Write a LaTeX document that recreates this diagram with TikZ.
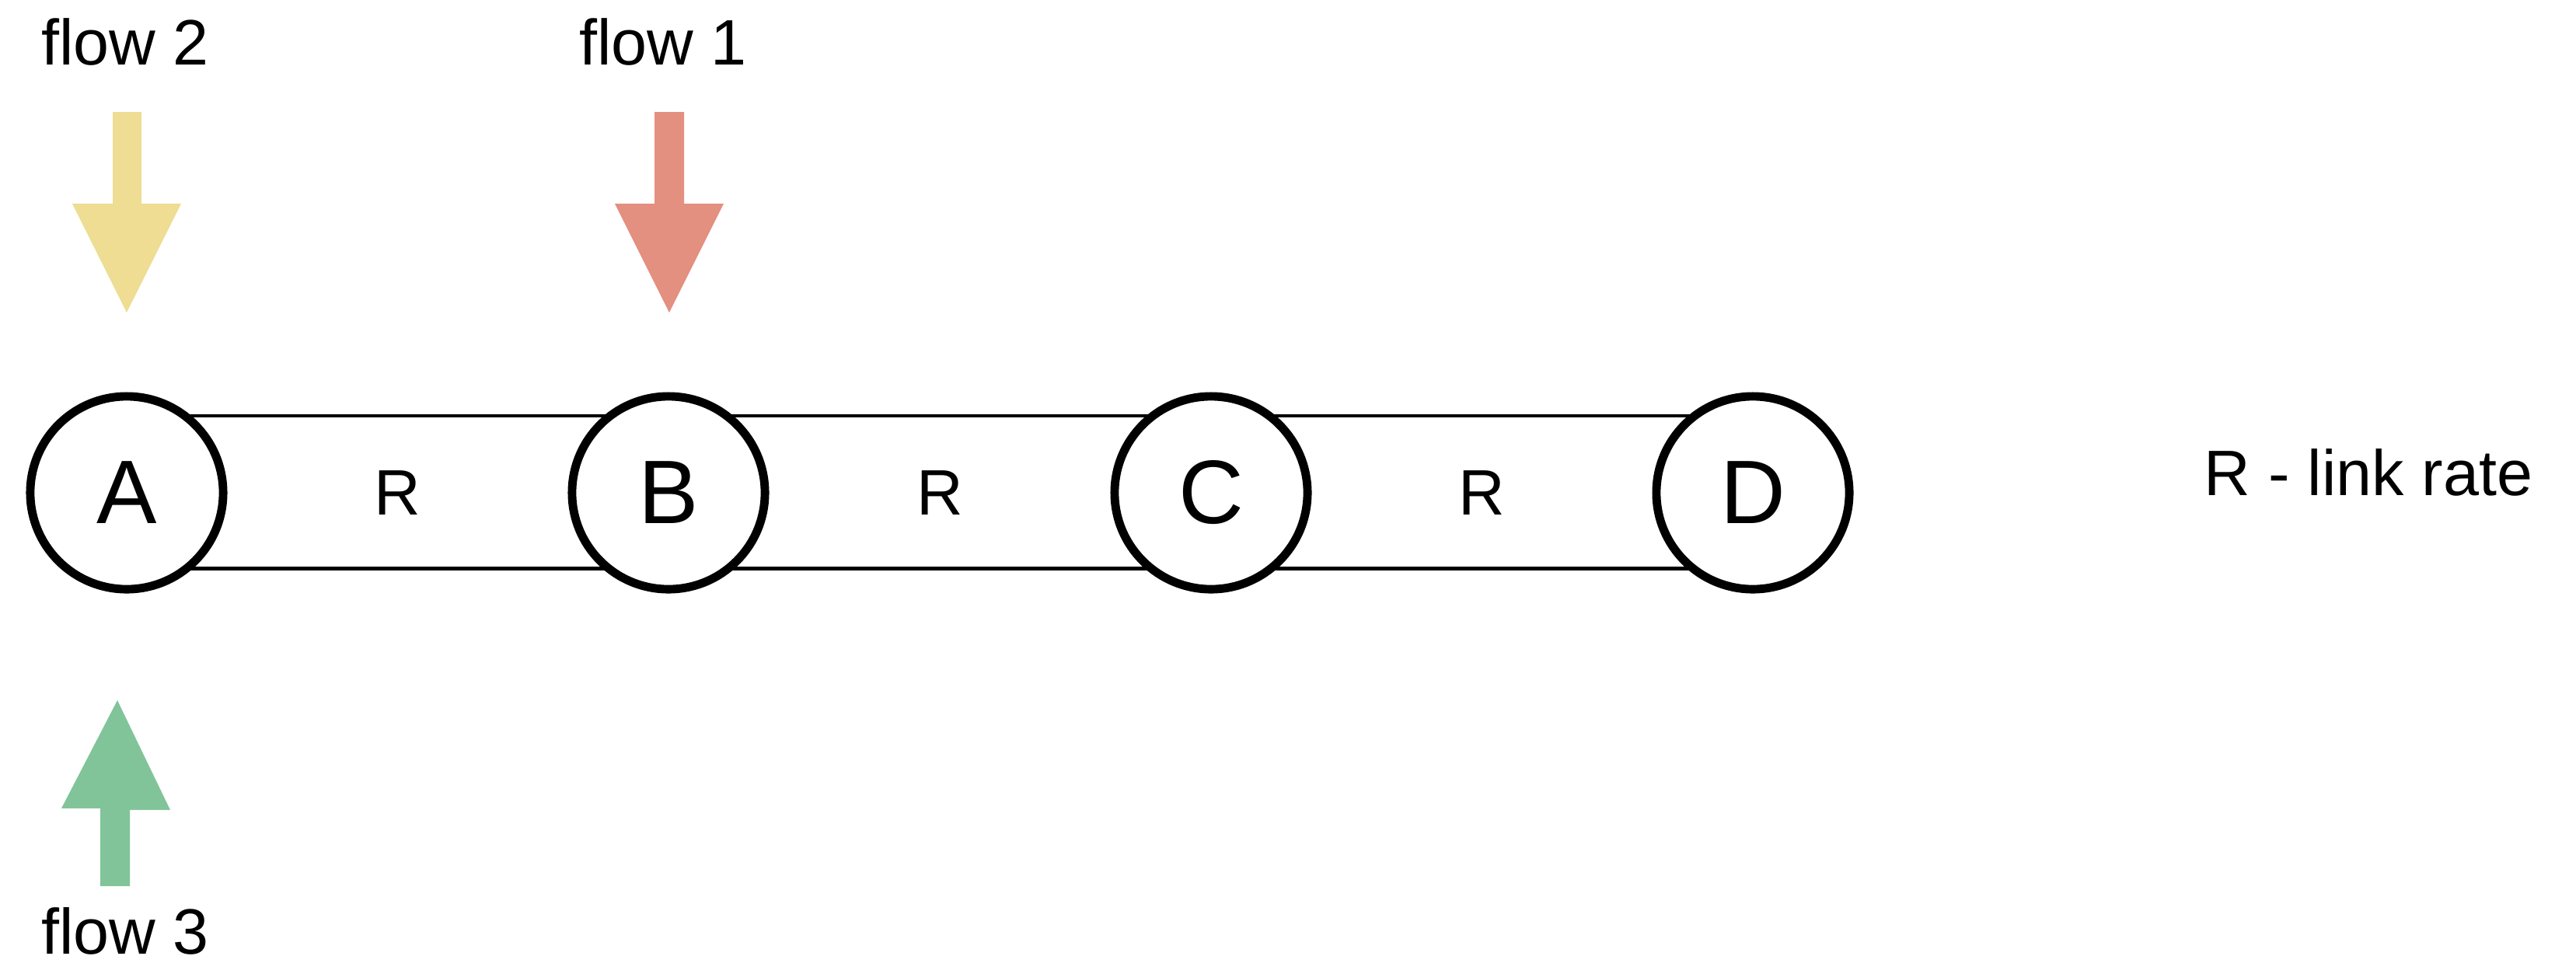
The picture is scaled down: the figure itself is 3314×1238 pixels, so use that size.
\documentclass[tikz,border=0pt]{standalone}
\usepackage{fontspec}
\setmainfont{Liberation Sans}
\usetikzlibrary{calc}
\definecolor{flowyellow}{HTML}{EEDD92}
\definecolor{flowred}{HTML}{E39080}
\definecolor{flowgreen}{HTML}{81C499}
\tikzset{
  station/.style={circle, draw=black, line width=3.1pt, fill=white, minimum size=2.48cm, inner sep=0pt, font=\fontsize{33}{33}\selectfont},
  linkline/.style={draw=black, line width=1.4pt},
  lbl/.style={inner sep=0pt, anchor=base, font=\fontsize{23.5}{24}\selectfont},
  flowarrow/.style={draw=none}
}
\begin{document}
\begin{tikzpicture}[x=0.01cm, y=-0.01cm]
\useasboundingbox (0,0) rectangle (3314,1238);
% coordinates of the stations
\coordinate (pA) at (163,634);
\coordinate (pB) at (860,634);
\coordinate (pC) at (1558,634);
\coordinate (pD) at (2255,634);
% links
\foreach \u/\v in {pA/pB, pB/pC, pC/pD}{
  \draw[linkline] ([yshift=0.99cm]\u) -- ([yshift=0.99cm]\v);
  \draw[linkline] ([yshift=-0.97cm]\u) -- ([yshift=-0.97cm]\v);
}
\node[lbl, anchor=center] (rAB) at ($(pA)!0.5!(pB)$) {R};
\node[lbl, anchor=center] (rBC) at ($(pB)!0.5!(pC)$) {R};
\node[lbl, anchor=center] (rCD) at ($(pC)!0.5!(pD)$) {R};
% stations
\node[station] (A) at (pA) {A};
\node[station] (B) at (pB) {B};
\node[station] (C) at (pC) {C};
\node[station] (D) at (pD) {D};
% flow arrows
\fill[flowyellow] (145,144) -- (182,144) -- (182,262) -- (233,262) -- (163,402) -- (93,262) -- (145,262) -- cycle;
\fill[flowred] (842,144) -- (880,144) -- (880,262) -- (931,262) -- (861,402) -- (791,262) -- (842,262) -- cycle;
\fill[flowgreen] (129,1140) -- (167,1140) -- (167,1042) -- (219,1042) -- (151,901) -- (79,1040) -- (129,1040) -- cycle;
% labels
\node[lbl] (f2) at (161,83) {flow 2};
\node[lbl] (f1) at (853,83) {flow 1};
\node[lbl] (f3) at (161,1227) {flow 3};
\node[lbl] (legend) at (3047,637) {R - link rate};
\end{tikzpicture}
\end{document}
